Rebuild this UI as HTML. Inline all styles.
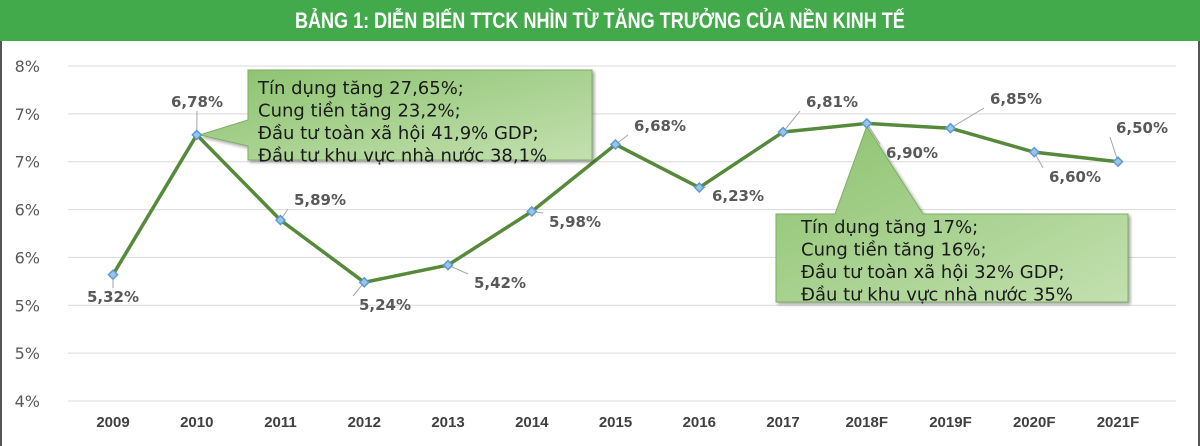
<!DOCTYPE html>
<html><head><meta charset="utf-8">
<style>
body{margin:0;width:1200px;height:446px;overflow:hidden;background:#fff;font-family:"Liberation Sans","DejaVu Sans",sans-serif;}
#title{position:absolute;left:0;top:0;width:1200px;height:41px;background:#43aa4b;color:#fff;font-family:"Liberation Sans Narrow","Liberation Sans",sans-serif;font-weight:bold;font-size:22px;line-height:41px;text-align:center;}
#frame{position:absolute;left:0;top:41px;width:1196px;height:405px;border-left:2px solid #555;border-right:2px solid #555;}
svg{position:absolute;left:0;top:0;}
</style></head><body>
<div id="title"><span style="display:inline-block;transform:scaleX(0.82)">BẢNG 1: DIỄN BIẾN TTCK NHÌN TỪ TĂNG TRƯỞNG CỦA NỀN KINH TẾ</span></div>
<div id="frame"></div>
<svg id="chart" width="1200" height="446">
<defs>
<linearGradient id="g" x1="0" y1="0" x2="1" y2="1">
<stop offset="0" stop-color="#8cc26e"/><stop offset="1" stop-color="#c3e0b0"/>
</linearGradient>
<filter id="sh"><feDropShadow dx="2" dy="2" stdDeviation="1.5" flood-color="#000" flood-opacity="0.35"/></filter>
</defs>
</svg>
<script>
const categories=["2009","2010","2011","2012","2013","2014","2015","2016","2017","2018F","2019F","2020F","2021F"];
const values=[5.32,6.78,5.89,5.24,5.42,5.98,6.68,6.23,6.81,6.90,6.85,6.60,6.50];
const labels=["5,32%","6,78%","5,89%","5,24%","5,42%","5,98%","6,68%","6,23%","6,81%","6,90%","6,85%","6,60%","6,50%"];
const tickValues=[4,4.5,5,5.5,6,6.5,7,7.5];
const tickLabels=["4%","5%","5%","6%","6%","7%","7%","8%"];
const NS="http://www.w3.org/2000/svg";
const svg=document.getElementById('chart');
const x=i=>113+i*83.75;
const y=v=>401-(v-4)/3.5*335;
function el(t,a,p){const e=document.createElementNS(NS,t);for(const k in a)e.setAttribute(k,a[k]);(p||svg).appendChild(e);return e;}
tickValues.forEach((t,i)=>{
 const g=el('line',{x1:68,x2:1176,y1:y(t),y2:y(t),stroke:'#d9d9d9','stroke-width':1});
 
 
 const tx=el('text',{x:40,y:y(t)+6,'text-anchor':'end','font-size':16,fill:'#595959','font-family':'DejaVu Sans, sans-serif'});
 tx.textContent=tickLabels[i];
 
 
});
categories.forEach((c,i)=>{
 const tx=el('text',{x:x(i),y:427,'text-anchor':'middle','font-size':15,'font-weight':'bold',fill:'#404040'});
 tx.textContent=c;
 
 
});
function callout(path,lines,tx,ty,name){
 const p=el('path',{d:path,fill:'url(#g)',stroke:'#7fae62','stroke-width':1,filter:'url(#sh)'});
 
 
 lines.forEach((l,k)=>{
  const t=el('text',{x:tx,y:ty+k*22.5,'font-size':18,fill:'#1a1a1a','font-family':'DejaVu Sans, sans-serif'});
  t.textContent=l;
  
  
 });
}
const pts=values.map((v,i)=>x(i)+','+y(v)).join(' ');
const pl=el('polyline',{points:pts,fill:'none',stroke:'#568a3a','stroke-width':3.5,'stroke-linejoin':'round'});


callout('M248,70 L592,70 L592,160 L248,160 L248,146 L'+(x(1)+3)+','+y(values[1])+' L248,120 Z',
 ["Tín dụng tăng 27,65%;","Cung tiền tăng 23,2%;","Đầu tư toàn xã hội 41,9% GDP;","Đầu tư khu vực nhà nước 38,1%"],258,94,'callout-2010');
callout('M776,214 L835,214 L'+x(9)+','+(y(values[9])+3)+' L923,214 L1128,214 L1128,302 L776,302 Z',
 ["Tín dụng tăng 17%;","Cung tiền tăng 16%;","Đầu tư toàn xã hội 32% GDP;","Đầu tư khu vực nhà nước 35%"],801,233,'callout-2018');
const lblPos=[[113,302],[197,107],[320,205],[385,310],[500,288],[575,227],[660,131],[738,201],[832,107],[912,158],[1016,104],[1075,182],[1142,133]];
values.forEach((v,i)=>{
 const px=x(i),py=y(v);
 const [lx,ly]=lblPos[i];
 const ll=el('line',{x1:px,y1:py,x2:lx-(lx>px+20?32:0),y2:ly-(ly>py?14:-4),stroke:'#a6a6a6','stroke-width':1});
 
 
 const m=el('path',{d:`M${px},${py-4.5} L${px+4.5},${py} L${px},${py+4.5} L${px-4.5},${py} Z`,fill:'#9dc3e6',stroke:'#5b9bd5','stroke-width':1.5});
 
 
 const t=el('text',{x:lx,y:ly,'text-anchor':'middle','font-size':15,'font-weight':'bold',fill:'#595959','font-family':'DejaVu Sans, sans-serif'});
 t.textContent=labels[i];
 
 
});
</script>
</body></html>
